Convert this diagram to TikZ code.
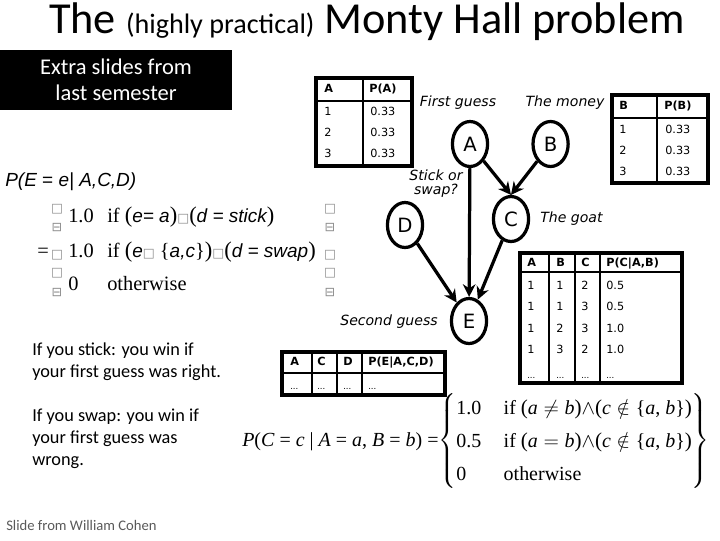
\documentclass[tikz,border=0pt]{standalone}
\usepackage{amsmath,amssymb}
\usepackage{fontspec}
\setmainfont{Carlito}
\newfontfamily\tabfont{DejaVu Sans}
\newfontfamily\arialfont{Liberation Sans}
\newfontfamily\timesfont{Liberation Serif}
\usetikzlibrary{arrows.meta,positioning,shapes.geometric}

\newcommand{\gbox}{{\tabfont\fontsize{9}{9}\selectfont\color{black!45}□}}
\newcommand{\gbar}{{\tabfont\fontsize{9}{9}\selectfont\color{black!45}⊟}}
\newcommand{\bigp}[1]{{\timesfont\fontsize{16}{16}\selectfont#1}}
\newcommand{\bigq}[1]{{\timesfont\fontsize{15}{15}\selectfont#1}}
\newcommand{\ai}[1]{{\arialfont\itshape\fontsize{13.5}{15}\selectfont#1}}

\begin{document}
\begin{tikzpicture}[x=0.025cm, y=-0.025cm,
  var/.style={draw, ellipse, line width=2.3pt, minimum width=25pt, minimum height=32pt, inner sep=0pt, font=\tabfont\fontsize{14}{14}\selectfont},
  edge/.style={line width=2.3pt, -{Stealth[length=9pt, width=9pt]}},
  lbl/.style={inner sep=0pt, align=center, font=\tabfont\itshape\fontsize{10}{10}\selectfont},
  tframe/.style={line width=2.2pt},
  tcol/.style={line width=1.8pt},
  thead/.style={line width=1.1pt},
  tcell/.style={anchor=west, inner sep=0pt, text height=6pt, text depth=1.5pt, font=\tabfont\fontsize{8}{9}\selectfont},
  thd/.style={tcell, font=\tabfont\bfseries\fontsize{8}{9}\selectfont},
  dots/.style={tcell, font=\tabfont\fontsize{6}{7}\selectfont},
  rowtxt/.style={anchor=base west, inner sep=0pt, font=\timesfont\fontsize{14.5}{15}\selectfont},
  note/.style={anchor=north west, align=left, inner sep=0pt, font=\fontsize{13}{15.6}\selectfont}]
\useasboundingbox (0,0) rectangle (720,540);

\node[anchor=base, inner sep=0pt, font=\fontsize{31.5}{31.5}\selectfont] (title) at (367,33) {The {\fontsize{20}{20}\selectfont(highly practical)} Monty Hall problem};
\node[fill=black, text=white, minimum width=165pt, minimum height=42.7pt, inner sep=0pt, align=center, font=\fontsize{16}{18.5}\selectfont] (extra) at (116,80) {Extra slides from\\last semester};

\node[var] (A) at (470,144) {A};
\node[var, right=30pt of A] (B) {B};
\node[var] (C) at (511,219) {C};
\node[var] (D) at (405,225) {D};
\node[var] (E) at (469,321) {E};
\draw[edge] (A) -- (C.north);
\draw[edge] (B) -- (C.north);
\draw[edge] (A) -- (E);
\draw[edge] (D) -- (E);
\draw[edge] (C) -- (E);

\node[lbl] (first) at (458,103) {First guess};
\node[lbl] (money) at (565,103) {The money};
\node[lbl] (stick) at (436,184) {Stick or\\swap?};
\node[lbl, right=7pt of C] (goat) {The goat};
\node[lbl] (second) at (389,322) {Second guess};

\draw[tframe] (316,78) rectangle (412,166);
\draw[tcol] (363,78) -- (363,166);
\draw[thead] (316,101) -- (412,101);
\node[thd] (ha) at (324,89.5) {A};
\node[thd] (hpa) at (369,89.5) {P(A)};
\foreach \y [count=\i] in {112,133,154} {
  \node[tcell] (a\i) at (324,\y) {\i};
  \node[tcell] (pa\i) at (370,\y) {0.33};
}

\draw[tframe] (612,95) rectangle (708,183);
\draw[tcol] (657,95) -- (657,183);
\draw[thead] (612,118) -- (708,118);
\node[thd] (hb) at (619,106.5) {B};
\node[thd] (hpb) at (664,106.5) {P(B)};
\foreach \y [count=\i] in {130,151,172} {
  \node[tcell] (b\i) at (619,\y) {\i};
  \node[tcell] (pb\i) at (665,\y) {0.33};
}

\draw[tframe] (520,253) rectangle (682,383);
\foreach \x in {549,575,600} \draw[tcol] (\x,253) -- (\x,383);
\draw[thead] (520,272) -- (682,272);
\node[thd] (hca) at (527,263) {A};
\node[thd] (hcb) at (556,263) {B};
\node[thd] (hcc) at (581,263) {C};
\node[thd] (hcp) at (606,263) {P(C|A,B)};
\foreach \a/\b/\c/\p [count=\i] in {1/1/2/0.5,1/1/3/0.5,1/2/3/1.0,1/3/2/1.0} {
  \node[tcell] (ca\i) at (527,{286+21.6*(\i-1)}) {\a};
  \node[tcell] (cb\i) at (556,{286+21.6*(\i-1)}) {\b};
  \node[tcell] (cc\i) at (581,{286+21.6*(\i-1)}) {\c};
  \node[tcell] (cp\i) at (606,{286+21.6*(\i-1)}) {\p};
}
\foreach \x [count=\i] in {527,556,581,606} \node[dots] (cd\i) at (\x,375) {...};

\draw[tframe] (282,352) rectangle (445,395);
\foreach \x in {312,337,362} \draw[tcol] (\x,352) -- (\x,395);
\draw[thead] (282,373) -- (445,373);
\node[thd] (hea) at (290,362.5) {A};
\node[thd] (hec) at (317,362.5) {C};
\node[thd] (hed) at (343,362.5) {D};
\node[thd] (hep) at (368,362.5) {P(E|A,C,D)};
\foreach \x [count=\i] in {290,317,343,368} \node[dots] (ed\i) at (\x,386) {...};

\node[anchor=base west, inner sep=0pt, font=\arialfont\itshape\fontsize{13.5}{15}\selectfont] (pe) at (5,186) {P(E {\upshape =} e| A,C,D)};
\node[rowtxt] (v1) at (68,222) {1.0};
\node[rowtxt] (c1) at (107,222) {if \bigp{(}\ai{e= a}\bigp{)}\gbox\bigp{(}\ai{d = stick}\bigp{)}};
\node[rowtxt] (eq) at (37,257) {=};
\node[rowtxt] (v2) at (68,257) {1.0};
\node[rowtxt] (c2) at (107,257) {if \bigp{(}\ai{e}\gbox\ \{\ai{a,c}\}\bigp{)}\gbox\bigp{(}\ai{d = swap}\bigp{)}};
\node[rowtxt] (v3) at (68,290) {0};
\node[rowtxt] (c3) at (107,290) {otherwise};
\foreach \y/\g [count=\i] in {209/\gbox,228/\gbar,255/\gbox,273/\gbox,293/\gbar} {
  \node[inner sep=0pt] (bl\i) at (57,\y) {\g};
  \node[inner sep=0pt] (br\i) at (330,\y) {\g};
}

\node[anchor=base west, inner sep=0pt, font=\timesfont\fontsize{14.2}{16.5}\selectfont] (pc) at (242,446) {\textit{P}(\textit{C} = \textit{c} | \textit{A} = \textit{a}, \textit{B} = \textit{b}) =$\left\{\def\arraystretch{1.42}\begin{tabular}{@{}l@{\hspace{16pt}}l@{}}1.0 & if \bigq{(}\textit{a}$\;\neq\;$\textit{b}\bigq{)}$\wedge$\bigq{(}\textit{c}$\;\notin\;$\{\textit{a}, \textit{b}\}\bigq{)}\\ 0.5 & if \bigq{(}\textit{a}$\;=\;$\textit{b}\bigq{)}$\wedge$\bigq{(}\textit{c}$\;\notin\;$\{\textit{a}, \textit{b}\}\bigq{)}\\ 0 & otherwise\end{tabular}\right\}$};

\node[note] (win1) at (32,343) {If you stick: you win if\\your first guess was right.};
\node[note] (win2) at (32,409) {If you swap: you win if\\your first guess was\\wrong.};
\node[anchor=base west, inner sep=0pt, text=black!65, font=\fontsize{10.4}{11}\selectfont] (credit) at (6,530) {Slide from William Cohen};
\end{tikzpicture}
\end{document}
